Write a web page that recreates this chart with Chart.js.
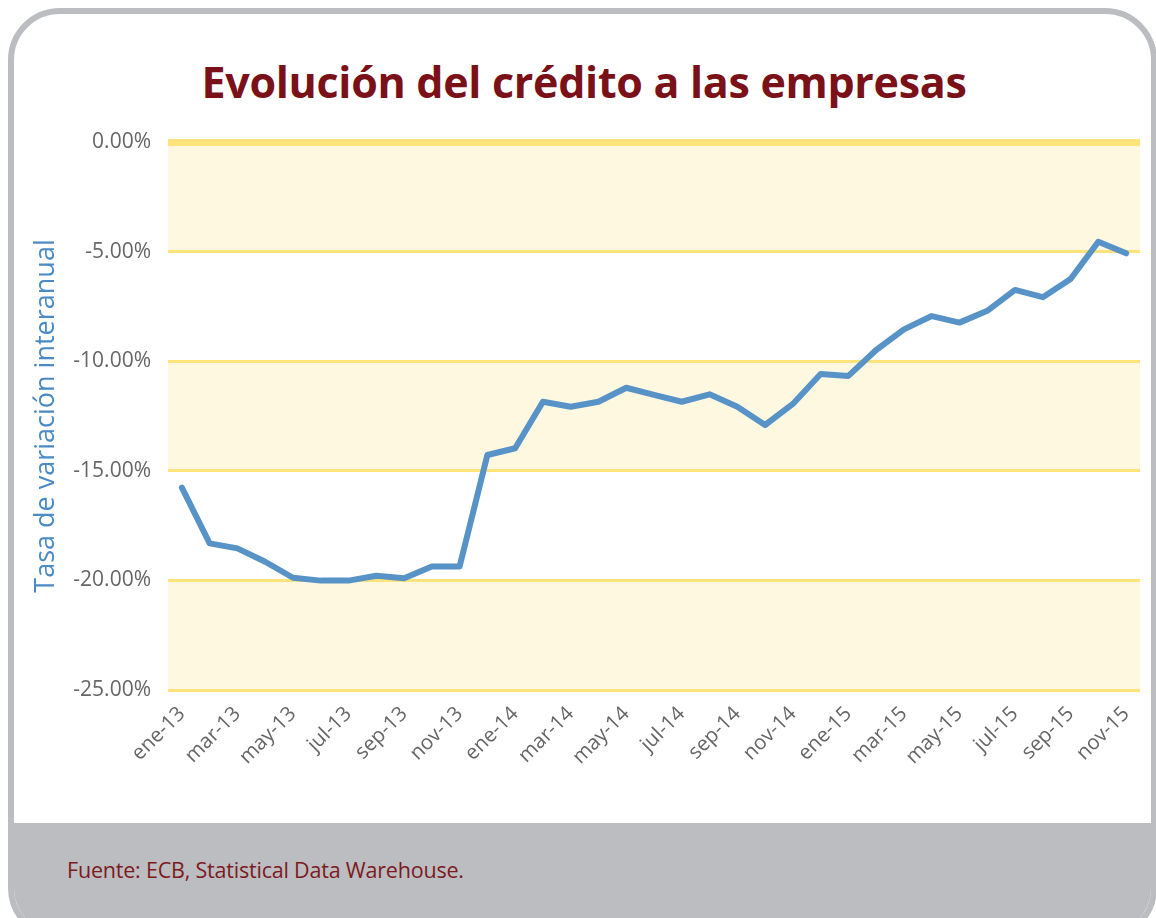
<!DOCTYPE html>
<html>
<head>
<meta charset="utf-8">
<script src="https://cdn.jsdelivr.net/npm/chart.js@4"></script>
<style>
  html, body { margin: 0; padding: 0; background: #fff; }
  body { width: 1156px; height: 918px; position: relative; overflow: hidden; font-family: "Open Sans", sans-serif; }
  .frame {
    position: absolute; left: 8px; top: 8px; width: 1137px; height: 920px;
    border: 6px solid #bcbdc0; border-radius: 52px; overflow: hidden; background: #fff;
  }
  .footer {
    position: absolute; left: 0; right: 0; top: 809px; bottom: 0; background: #bcbdc0;
  }
  .title {
    position: absolute; left: 0; width: 1168px; top: 52px; text-align: center;
    color: #7b1118; font-weight: 700; font-size: 43px; letter-spacing: -0.3px; margin: 0;
  }
  .source {
    position: absolute; left: 67px; top: 855px; color: #7b1a1f; font-size: 21.5px; letter-spacing: -0.2px;
  }
  #chartWrap { position: absolute; left: 0; top: 0; width: 1156px; height: 918px; }
</style>
</head>
<body>
<div class="frame"><div class="footer"></div></div>
<h1 class="title">Evolución del crédito a las empresas</h1>
<div class="source">Fuente: ECB, Statistical Data Warehouse.</div>
<div id="chartWrap"><canvas id="creditChart" width="1156" height="918"></canvas></div>

<script>
// monthly labels, ene-13 .. nov-15
const months = [
  'ene-13','feb-13','mar-13','abr-13','may-13','jun-13','jul-13','ago-13','sep-13','oct-13','nov-13','dic-13',
  'ene-14','feb-14','mar-14','abr-14','may-14','jun-14','jul-14','ago-14','sep-14','oct-14','nov-14','dic-14',
  'ene-15','feb-15','mar-15','abr-15','may-15','jun-15','jul-15','ago-15','sep-15','oct-15','nov-15'
];

// tasa de variación interanual (%)
const creditRate = [
  -15.77, -18.31, -18.54, -19.15, -19.88, -20.01, -20.01, -19.79, -19.90, -19.37, -19.37, -14.28,
  -13.97, -11.85, -12.08, -11.85, -11.21, -11.54, -11.85, -11.51, -12.08, -12.91, -11.95, -10.58,
  -10.67, -9.49, -8.55, -7.94, -8.24, -7.70, -6.75, -7.08, -6.25, -4.55, -5.08
];

const yTicks = [0, -5, -10, -15, -20, -25];
// shaded bands [from, to]
const bands = [[0, -5], [-10, -15], [-20, -25]];

const bandPlugin = {
  id: 'bands',
  beforeDraw(chart) {
    const { ctx, chartArea, scales } = chart;
    ctx.save();
    ctx.fillStyle = '#fef8e0';
    bands.forEach(b => {
      const y1 = scales.y.getPixelForValue(b[0]);
      const y2 = scales.y.getPixelForValue(b[1]);
      ctx.fillRect(chartArea.left, y1, chartArea.right - chartArea.left, y2 - y1);
    });
    ctx.restore();
  }
};

const ctx = document.getElementById('creditChart').getContext('2d');

new Chart(ctx, {
  type: 'line',
  data: {
    labels: months,
    datasets: [{
      data: creditRate,
      borderColor: '#5893c8',
      borderWidth: 6,
      pointRadius: 0,
      tension: 0,
      fill: false,
      borderCapStyle: 'round',
      borderJoinStyle: 'round'
    }]
  },
  options: {
    responsive: false,
    animation: false,
    layout: { padding: { left: 0, top: 142, right: 16, bottom: 0 } },
    plugins: {
      legend: { display: false },
      tooltip: { enabled: false }
    },
    scales: {
      x: {
        offset: true,
        grid: { display: false, drawTicks: false },
        border: { display: false },
        ticks: {
          autoSkip: false,
          minRotation: 45,
          maxRotation: 45,
          padding: 12,
          color: '#666666',
          font: { family: '"Open Sans", sans-serif', size: 20.5 },
          callback: (v, i) => i % 2 === 0 ? months[i] : ''
        },
        afterFit: s => { s.height = 228; }
      },
      y: {
        min: -25,
        max: 0,
        afterBuildTicks: s => { s.ticks = yTicks.map(v => ({ value: v })); },
        grid: {
          color: '#fee37a',
          lineWidth: c => c.tick && c.tick.value === 0 ? 7 : 3,
          drawTicks: false
        },
        border: { display: false },
        ticks: {
          padding: 17,
          color: '#666666',
          font: { family: '"Open Sans", sans-serif', size: 21 },
          callback: v => v.toFixed(2) + '%'
        },
        title: {
          display: true,
          text: 'Tasa de variación interanual',
          color: '#4a8ac5',
          font: { family: '"Open Sans", sans-serif', size: 27 },
          padding: { top: 30, bottom: 0 }
        },
        afterFit: s => { s.width = 168; }
      }
    }
  },
  plugins: [bandPlugin]
});
</script>
</body>
</html>
